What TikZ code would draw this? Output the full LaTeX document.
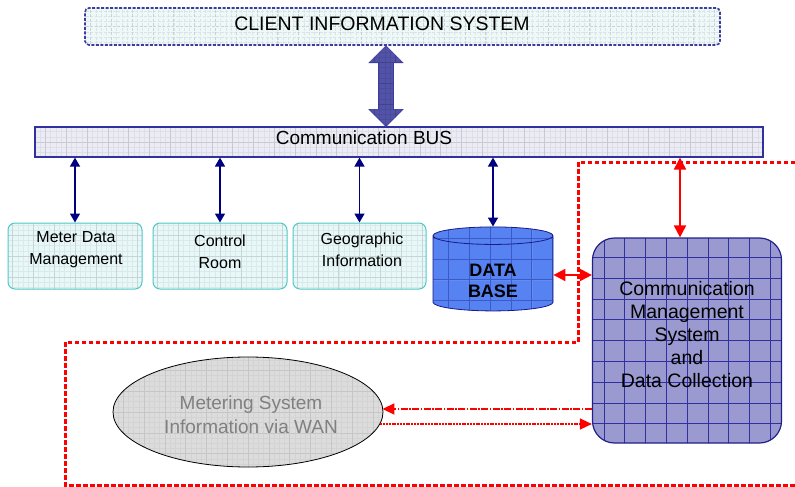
\documentclass[tikz,border=0pt]{standalone}
\usepackage{fontspec}
\setmainfont{Liberation Sans}
\usetikzlibrary{shapes.geometric,arrows.meta}

\definecolor{cisfill}{HTML}{EEF8F8}
\definecolor{cisline}{HTML}{3C3CA0}
\definecolor{busfill}{HTML}{ECECF6}
\definecolor{busline}{HTML}{3030A0}
\definecolor{boxfill}{HTML}{E8F8F8}
\definecolor{boxline}{HTML}{50C8C8}
\definecolor{dbfill}{HTML}{5682F2}
\definecolor{dbgrid}{HTML}{3A5AC8}
\definecolor{dbline}{HTML}{1A1A8A}
\definecolor{cmsfill}{HTML}{9A9AD0}
\definecolor{cmsgrid}{HTML}{3030A0}
\definecolor{cmsline}{HTML}{20208A}
\definecolor{bigfill}{HTML}{5252A8}
\definecolor{navyline}{HTML}{00007F}
\definecolor{wanfill}{HTML}{DCDCDC}
\definecolor{wantext}{HTML}{808080}

\tikzset{
  gridded/.style n args={3}{path picture={
      \draw[#1,line width=0.3pt]
        ([shift={(-40pt,-40pt)}]path picture bounding box.south west) grid[step=#3]
        ([shift={(40pt,40pt)}]path picture bounding box.north east);
      \draw[#2,line width=0.5pt]
        ([shift={(-40pt,-40pt)}]path picture bounding box.south west) grid[step=20.8pt]
        ([shift={(40pt,40pt)}]path picture bounding box.north east);}},
  cisbox/.style={draw=cisline, fill=cisfill, line width=1.6pt,
    dash pattern=on 3pt off 1.5pt, rounded corners=4pt,
    minimum width=635pt, minimum height=37pt, inner sep=0pt,
    gridded={cisfill!92!black}{cisfill!85!black}{5.2pt}},
  busbox/.style={draw=busline, fill=busfill, line width=1.2pt,
    minimum width=728pt, minimum height=30pt, inner sep=0pt,
    gridded={busfill!94!black}{busfill!85!black}{5.2pt}},
  appbox/.style={draw=boxline, fill=boxfill, line width=1pt, rounded corners=7pt,
    minimum height=66pt, inner sep=0pt,
    gridded={boxfill!94!black}{boxfill!86!black}{5.2pt}},
  dbshape/.style={cylinder, shape border rotate=90, aspect=0.37,
    draw=dbline, fill=dbfill, line width=0.8pt,
    minimum width=120pt, minimum height=84pt, inner sep=0pt,
    font=\fontsize{18}{21}\selectfont\bfseries,
    gridded={dbfill!92!white}{dbgrid}{20.8pt}},
  cmsbox/.style={draw=cmsline, fill=cmsfill, line width=1.2pt, rounded corners=22pt,
    minimum width=189pt, minimum height=205pt, inner sep=0pt,
    gridded={cmsfill}{cmsgrid}{20.8pt}},
  wanshape/.style={ellipse, draw=black, fill=wanfill, line width=0.8pt,
    minimum width=270pt, minimum height=110pt, inner sep=0pt,
    gridded={wanfill!96!black}{wanfill!90!black}{5.2pt}},
  boxtext/.style={font=\fontsize{16}{22}\selectfont, align=center, inner sep=0pt},
  dbtext/.style={font=\fontsize{18}{21}\selectfont\bfseries, align=center, inner sep=0pt},
  cmstext/.style={font=\fontsize{19.5}{23}\selectfont, align=center, inner sep=0pt},
  wantextstyle/.style={font=\fontsize{19}{24}\selectfont, text=wantext, align=center, inner sep=0pt},
  navyarrow/.style={navyline, line width=1.6pt,
    {Triangle[width=10pt,length=9pt]}-{Triangle[width=10pt,length=9pt]}},
  redarrow/.style={red, line width=2pt,
    {Triangle[width=12pt,length=12pt]}-{Triangle[width=12pt,length=12pt]}},
  wanlink/.style={red, line width=1.5pt, -{Triangle[width=11pt,length=12pt]}},
  zone/.style={red, line width=3pt, dash pattern=on 4.5pt off 2.5pt},
}

\begin{document}
\begin{tikzpicture}[x=1pt,y=-1pt]
\useasboundingbox (0,0) rectangle (795,487);

% dotted boundary of the metering domain
\draw[zone] (795,162) -- (578,162) -- (578,342) -- (65,342) -- (65,485) -- (795,485);

% client system and bus
\node[cisbox] (cis) at (402.5,26.5) {};
\node[font=\fontsize{19.5}{23}\selectfont, inner sep=0pt] (cislabel) at (382,24) {CLIENT INFORMATION SYSTEM};
\node[busbox] (bus) at (399,142) {};
\node[font=\fontsize{19}{23}\selectfont, inner sep=0pt] (buslabel) at (364,138) {Communication BUS};

% wide two-way link between client system and bus
\coordinate (bt) at (cis.south -| 386,0);
\coordinate (bb) at (bus.north -| 386,0);
\path[fill=bigfill, draw=cisline, line width=0.6pt,
      gridded={bigfill!92!black}{bigfill!80!black}{5.2pt}]
  (bt) -- ++(17,17) -- ++(-9.5,0) |- ([shift={(7.5,-17)}]bb) -- ++(9.5,0) -- (bb)
  -- ++(-17,-17) -- ++(9.5,0) |- ([shift={(-7.5,17)}]bt) -- ++(-9.5,0) -- cycle;

% applications
\node[appbox, minimum width=134pt] (mdm) at (75,256) {};
\node[boxtext] (mdmtext) at (76,250) {Meter Data\\Management};
\node[appbox, minimum width=134pt] (ctl) at (220,256) {};
\node[boxtext] (ctltext) at (220,252) {Control\\Room};
\node[appbox, minimum width=133pt] (geo) at (359.5,256) {};
\node[boxtext] (geotext) at (362,250) {Geographic\\Information};

\node[dbshape] (db) at (493,273.5) {\phantom{DATA}};
\node[dbtext] (dbtext) at (493,281) {DATA\\BASE};

\node[cmsbox] (cms) at (687,340.5) {};
\node[cmstext] (cmslabel) at (687,335) {Communication\\Management\\System\\and\\Data Collection};

\node[wanshape] (wan) at (248,412) {};
\node[wantextstyle] (wanlabel) at (251,415) {Metering System\\Information via WAN};

% bus links
\draw[navyarrow] (mdm.north |- bus.south) -- (mdm.north);
\draw[navyarrow] (ctl.north |- bus.south) -- (ctl.north);
\draw[navyarrow] (geo.north |- bus.south) -- (geo.north);
\draw[navyarrow] (db.north |- bus.south) -- (db.north);
\draw[redarrow] ([xshift=-7pt]cms.north |- bus.south) -- ([xshift=-7pt]cms.north);
\draw[redarrow] ([yshift=-1.5pt]db.east) -- ([yshift=-1.5pt]db.east -| cms.west);

% WAN links
\draw[wanlink, dash pattern=on 7pt off 1.5pt on 1.5pt off 1.5pt]
  ([yshift=3pt]wan.east -| cms.west) -- ([yshift=3pt,xshift=-1pt]wan.east);
\draw[wanlink, dash pattern=on 2pt off 0.8pt]
  ([yshift=-12pt,xshift=-3pt]wan.east) -- ([yshift=-12pt]wan.east -| cms.west);
\end{tikzpicture}
\end{document}
